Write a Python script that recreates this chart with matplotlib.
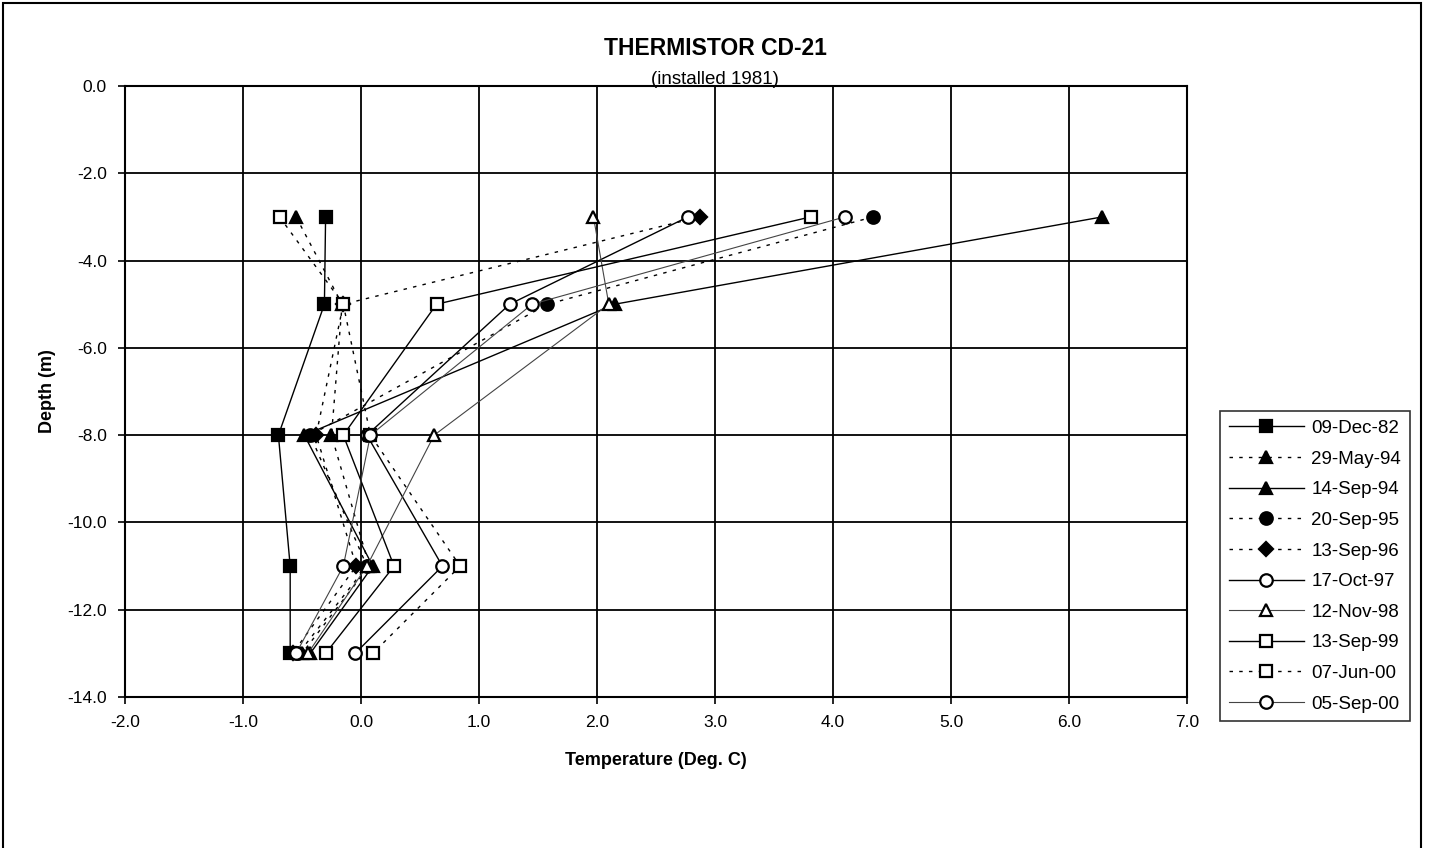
import matplotlib
matplotlib.use("Agg")
import matplotlib.pyplot as plt
from matplotlib.patches import Rectangle

plt.rcParams['font.family'] = ['Liberation Sans', 'DejaVu Sans']
plt.rcParams['axes.unicode_minus'] = False

depths = [-3, -5, -8, -11, -13]

dec_82 = [-0.30, -0.31, -0.70, -0.60, -0.60]
may_94 = [-0.55, -0.16, -0.25, 0.07, -0.50]
sep_94 = [6.28, 2.15, -0.48, 0.10, -0.43]
sep_95 = [4.34, 1.58, -0.43, 0.05, -0.53]
sep_96 = [2.87, -0.15, -0.38, -0.04, -0.58]
oct_97 = [2.77, 1.26, 0.05, 0.69, -0.05]
nov_98 = [1.97, 2.10, 0.62, 0.05, -0.45]
sep_99 = [3.81, 0.64, -0.15, 0.28, -0.30]
jun_00 = [-0.69, -0.15, 0.08, 0.84, 0.10]
sep_00 = [4.10, 1.45, 0.08, -0.15, -0.55]

labels = ["09-Dec-82", "29-May-94", "14-Sep-94", "20-Sep-95", "13-Sep-96",
          "17-Oct-97", "12-Nov-98", "13-Sep-99", "07-Jun-00", "05-Sep-00"]
series = [dec_82, may_94, sep_94, sep_95, sep_96,
          oct_97, nov_98, sep_99, jun_00, sep_00]

x_ticks = [-2.0, -1.0, 0.0, 1.0, 2.0, 3.0, 4.0, 5.0, 6.0, 7.0]
y_ticks = [0.0, -2.0, -4.0, -6.0, -8.0, -10.0, -12.0, -14.0]

dotted = (0, (2.5, 4.5))
styles = [
    dict(marker='s', ls='-', mfc='black', ms=9, color='black', lw=1.0),
    dict(marker='^', ls=dotted, mfc='black', ms=9, color='black', lw=1.0),
    dict(marker='^', ls='-', mfc='black', ms=9, color='black', lw=1.0),
    dict(marker='o', ls=dotted, mfc='black', ms=9, color='black', lw=1.0),
    dict(marker='D', ls=dotted, mfc='black', ms=7, color='black', lw=1.0),
    dict(marker='o', ls='-', mfc='white', ms=9, color='black', lw=1.0),
    dict(marker='^', ls='-', mfc='white', ms=9, color='#444444', lw=0.8),
    dict(marker='s', ls='-', mfc='white', ms=9, color='black', lw=1.0),
    dict(marker='s', ls=dotted, mfc='white', ms=9, color='black', lw=1.0),
    dict(marker='o', ls='-', mfc='white', ms=9, color='#444444', lw=0.8),
]

fig = plt.figure(figsize=(14.3, 8.48), dpi=100)
ax = fig.add_axes([0.0874, 0.178, 0.7427, 0.7206])

for vals, lab, st in zip(series, labels, styles):
    ax.plot(vals, depths, label=lab, mec='black', mew=1.6, zorder=3, **st)

ax.set_xlim(-2, 7)
ax.set_ylim(-14, 0)
ax.set_xticks(x_ticks)
ax.set_yticks(y_ticks)
ax.set_xticklabels([f"{v:.1f}" for v in x_ticks], fontsize=12.5)
ax.set_yticklabels([f"{v:.1f}" for v in y_ticks], fontsize=12.5)
ax.grid(True, color='black', lw=1.3)
ax.set_axisbelow(True)
for s in ax.spines.values():
    s.set_linewidth(1.5)
ax.tick_params(direction='out', length=5, width=1.2, pad=8)

ax.set_xlabel("Temperature (Deg. C)", fontsize=13, fontweight='bold', labelpad=16)
ax.set_ylabel("Depth (m)", fontsize=13, fontweight='bold', labelpad=8)

fig.text(0.5, 0.943, "THERMISTOR CD-21", ha='center', va='center',
         fontsize=16.5, fontweight='bold')
fig.text(0.5, 0.906, "(installed 1981)", ha='center', va='center', fontsize=13.5)

leg = ax.legend(loc='center left', bbox_to_anchor=(1.0226, 0.214), fontsize=13.5,
                frameon=True, fancybox=False, edgecolor='black',
                handlelength=4.0, labelspacing=0.72, borderpad=0.45,
                handletextpad=0.4)
leg.get_frame().set_linewidth(1.2)

fig.patches.append(Rectangle((3 / 1430, -0.05), 1418 / 1430, 1.05 - 3 / 848,
                             transform=fig.transFigure, fill=False,
                             edgecolor='black', lw=1.5))

fig.savefig("out.png", dpi=100)
